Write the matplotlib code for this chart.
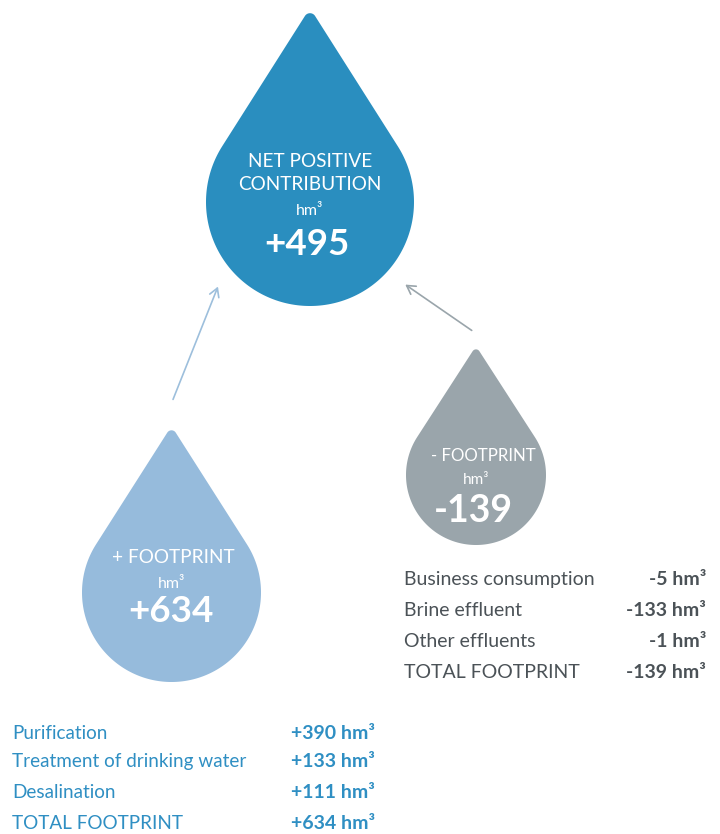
import numpy as np
import matplotlib
matplotlib.use("Agg")
import matplotlib.pyplot as plt
from matplotlib.patches import Polygon

plt.rcParams['font.family'] = ['Lato', 'DejaVu Sans']

# ---- data ----
drop_titles = [["NET POSITIVE", "CONTRIBUTION"], ["+ FOOTPRINT"], ["- FOOTPRINT"]]
drop_values = ["+495", "+634", "-139"]
drop_unit = "hm³"

pos_labels = ["Purification", "Treatment of drinking water", "Desalination", "TOTAL FOOTPRINT"]
pos_values = ["+390 hm³", "+133 hm³", "+111 hm³", "+634 hm³"]
neg_labels = ["Business consumption", "Brine effluent", "Other effluents", "TOTAL FOOTPRINT"]
neg_values = ["-5 hm³", "-133 hm³", "-1 hm³", "-139 hm³"]

# ---- style ----
C_NET = "#2a8ebf"
C_POS = "#96bbdc"
C_NEG = "#9aa5ab"
C_POS_TXT = "#2f8fc3"
C_NEG_TXT = "#4b5257"

W, H = 720, 834
fig = plt.figure(figsize=(W / 100, H / 100), dpi=100)
ax = fig.add_axes([0, 0, 1, 1])
ax.set_xlim(0, W)
ax.set_ylim(H, 0)
ax.axis("off")


def drop(cx, cy, r, h, rt, color):
    # tip at (cx, cy - h); y axis points down
    theta = np.arccos(r / h)
    sin_a = r / h
    tc_y = cy - h + rt / sin_a
    pts = []
    for t in np.linspace(-theta, theta, 20):
        pts.append((cx + rt * np.sin(t), tc_y - rt * np.cos(t)))
    for t in np.linspace(theta, 2 * np.pi - theta, 200):
        pts.append((cx + r * np.sin(t), cy - r * np.cos(t)))
    ax.add_patch(Polygon(pts, closed=True, facecolor=color, edgecolor="none"))


drop(310, 202, 104, 194, 6, C_NET)
drop(171.5, 592.5, 89.5, 166.5, 5, C_POS)
drop(476, 475, 70, 129, 4, C_NEG)

# arrows
ax.annotate("", xy=(219, 284), xytext=(172, 402),
            arrowprops=dict(arrowstyle="->,head_length=0.6,head_width=0.35", color="#9dbfdc", lw=1.2))
ax.annotate("", xy=(403, 283), xytext=(474, 332),
            arrowprops=dict(arrowstyle="->,head_length=0.6,head_width=0.35", color="#9aa5ab", lw=1.2))

W_TXT = "white"
# net drop text
ax.text(310, 167, drop_titles[0][0], color=W_TXT, fontsize=13.7, ha="center", va="baseline")
ax.text(310, 190, drop_titles[0][1], color=W_TXT, fontsize=13.7, ha="center", va="baseline")
ax.text(310, 215, drop_unit, color=W_TXT, fontsize=11.5, ha="center", va="baseline")
ax.text(307, 255, drop_values[0], color=W_TXT, fontsize=26.5, fontweight="bold", ha="center", va="baseline")

# positive drop text
ax.text(173, 563, drop_titles[1][0], color=W_TXT, fontsize=13.7, ha="center", va="baseline")
ax.text(172, 588, drop_unit, color=W_TXT, fontsize=11.5, ha="center", va="baseline")
ax.text(171, 622, drop_values[1], color=W_TXT, fontsize=26.5, fontweight="bold", ha="center", va="baseline")

# negative drop text
ax.text(483, 461, drop_titles[2][0], color=W_TXT, fontsize=12.2, ha="center", va="baseline")
ax.text(476, 484, drop_unit, color=W_TXT, fontsize=11, ha="center", va="baseline")
ax.text(473, 522, drop_values[2], color=W_TXT, fontsize=27, fontweight="bold", ha="center", va="baseline")

# lists
pos_base = [739, 767, 798, 829]
for lab, val, yb in zip(pos_labels, pos_values, pos_base):
    ax.text(12, yb, lab, color=C_POS_TXT, fontsize=13.6, ha="left", va="baseline")
    ax.text(375, yb, val, color=C_POS_TXT, fontsize=14, fontweight="bold", ha="right", va="baseline")

neg_base = [585, 616, 647, 678]
for lab, val, yb in zip(neg_labels, neg_values, neg_base):
    ax.text(404, yb, lab, color=C_NEG_TXT, fontsize=14, ha="left", va="baseline")
    ax.text(706, yb, val, color=C_NEG_TXT, fontsize=14, fontweight="bold", ha="right", va="baseline")

fig.savefig("out.png", dpi=100)
